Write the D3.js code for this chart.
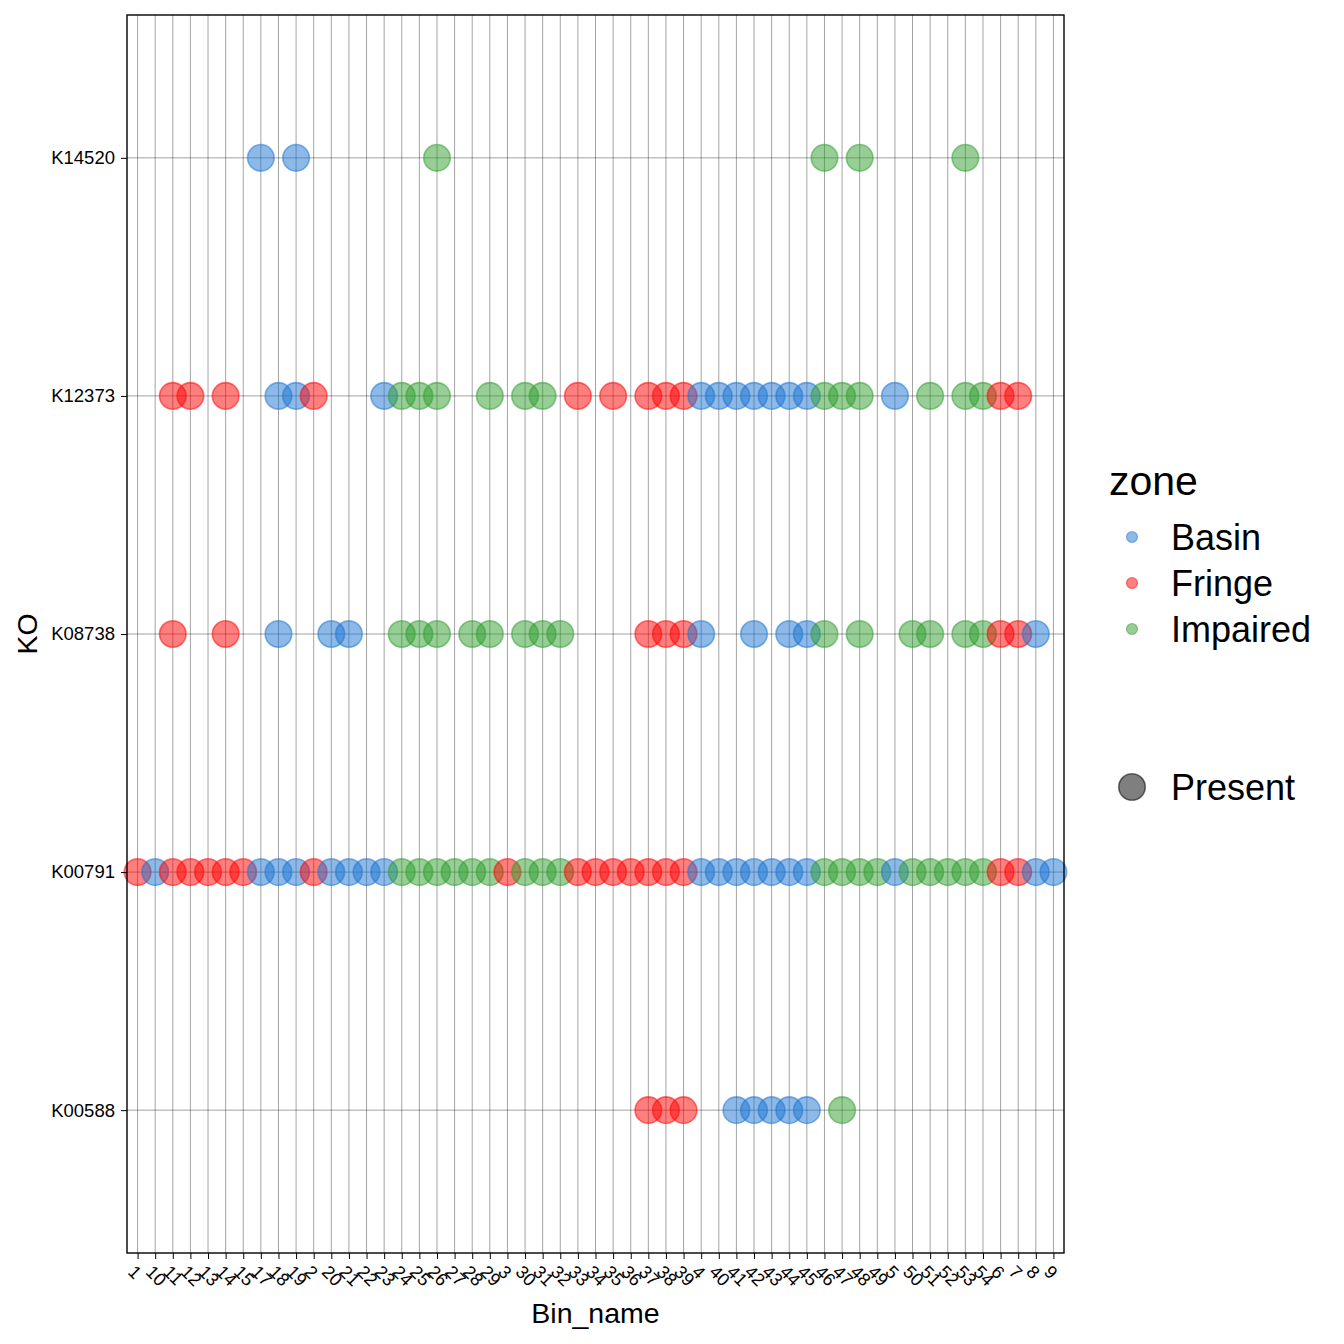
<!DOCTYPE html>
<html><head><meta charset="utf-8">
<script src="https://cdn.jsdelivr.net/npm/d3@7"></script>
<style>body{margin:0;background:#fff}svg{display:block;font-family:"Liberation Sans",Arial,sans-serif}</style>
</head><body>
<svg id="c" width="1344" height="1344"></svg>
<script>
// x categories (Bin_name, alphabetic order as in the chart)
const bins = ["1","10","11","12","13","14","15","17","18","19","2","20","21","22","23","24","25","26","27","28","29","3","30","31","32","33","34","35","36","37","38","39","4","40","41","42","43","44","45","46","47","48","49","5","50","51","52","53","54","6","7","8","9"];
// zone of each bin (same order as bins)
const binZones = ["Fringe","Basin","Fringe","Fringe","Fringe","Fringe","Fringe","Basin","Basin","Basin","Fringe","Basin","Basin","Basin","Basin","Impaired","Impaired","Impaired","Impaired","Impaired","Impaired","Fringe","Impaired","Impaired","Impaired","Fringe","Fringe","Fringe","Fringe","Fringe","Fringe","Fringe","Basin","Basin","Basin","Basin","Basin","Basin","Basin","Impaired","Impaired","Impaired","Impaired","Basin","Impaired","Impaired","Impaired","Impaired","Impaired","Fringe","Fringe","Basin","Basin"];
// y categories (bottom to top)
const kos = ["K00588","K00791","K08738","K12373","K14520"];
// bins where each KO is Present
const presK00588 = ["37","38","39","41","42","43","44","45","47"];
const presK00791 = bins.slice();
const presK08738 = ["11","14","18","20","21","24","25","26","28","29","30","31","32","37","38","39","4","42","44","45","46","48","50","51","53","54","6","7","8"];
const presK12373 = ["11","12","14","18","19","2","23","24","25","26","29","30","31","33","35","37","38","39","4","40","41","42","43","44","45","46","47","48","5","51","53","54","6","7"];
const presK14520 = ["17","19","26","46","48","53"];
const zones = ["Basin","Fringe","Impaired"];
const zoneColors = ["#1a73d1","#ff0000","#2e9e2e"];

const presence = {K00588:presK00588,K00791:presK00791,K08738:presK08738,K12373:presK12373,K14520:presK14520};
const zoneOf = new Map(bins.map((b,i)=>[b,binZones[i]]));
const points = [];
kos.forEach(k => presence[k].forEach(b => points.push({bin:b, ko:k, zone:zoneOf.get(b)})));

const svg = d3.select("#c");
const L=127, R=1064, T=15, B=1253;
const x = d3.scalePoint().domain(bins).range([L,R]).padding(0.6);
const y = d3.scalePoint().domain(kos).range([B,T]).padding(0.6);
const color = d3.scaleOrdinal().domain(zones).range(zoneColors);

// grid
const g = svg.append("g");
g.selectAll("line.vx").data(bins).join("line")
  .attr("x1",d=>x(d)).attr("x2",d=>x(d)).attr("y1",T).attr("y2",B)
  .attr("stroke","#000").attr("stroke-opacity",0.36).attr("stroke-width",1);
g.selectAll("line.hy").data(kos).join("line")
  .attr("y1",d=>y(d)).attr("y2",d=>y(d)).attr("x1",L).attr("x2",R)
  .attr("stroke","#000").attr("stroke-opacity",0.36).attr("stroke-width",1);

// points
svg.append("g").selectAll("circle").data(points).join("circle")
  .attr("cx",d=>x(d.bin)).attr("cy",d=>y(d.ko)).attr("r",13.3)
  .attr("fill",d=>color(d.zone)).attr("fill-opacity",0.5)
  .attr("stroke",d=>color(d.zone)).attr("stroke-opacity",0.5).attr("stroke-width",1.6);

// border
svg.append("rect").attr("x",L).attr("y",T).attr("width",R-L).attr("height",B-T)
  .attr("fill","none").attr("stroke","#000").attr("stroke-width",1.4);

// axes
const ax = svg.append("g").attr("transform",`translate(0,${B})`)
  .call(d3.axisBottom(x).tickSize(6).tickPadding(4));
ax.select(".domain").remove();
ax.selectAll(".tick line").attr("stroke","#000").attr("stroke-width",1);
ax.selectAll(".tick text").attr("font-size",18).attr("fill","#000")
  .attr("text-anchor","start").attr("dy",null).attr("y",0)
  .attr("dominant-baseline","hanging")
  .attr("transform","translate(-2,11) rotate(45)");

const ay = svg.append("g").attr("transform",`translate(${L},0)`)
  .call(d3.axisLeft(y).tickSize(6).tickPadding(6));
ay.select(".domain").remove();
ay.selectAll(".tick line").attr("stroke","#000").attr("stroke-width",1);
ay.selectAll(".tick text").attr("font-size",18.5).attr("fill","#000");

svg.append("text").attr("x",(L+R)/2).attr("y",1323).attr("text-anchor","middle")
  .attr("font-size",28.5).text("Bin_name");
svg.append("text").attr("transform",`translate(37,${(T+B)/2}) rotate(-90)`)
  .attr("text-anchor","middle").attr("font-size",28.5).text("KO");

// legend
const lg = svg.append("g");
lg.append("text").attr("x",1109).attr("y",495).attr("font-size",41).text("zone");
zones.forEach((z,i)=>{
  const cy = 537 + i*46;
  lg.append("circle").attr("cx",1132).attr("cy",cy).attr("r",5.5)
    .attr("fill",color(z)).attr("fill-opacity",0.5)
    .attr("stroke",color(z)).attr("stroke-opacity",0.5).attr("stroke-width",1.2);
  lg.append("text").attr("x",1171).attr("y",cy+13).attr("font-size",36).text(z);
});
lg.append("circle").attr("cx",1132).attr("cy",787).attr("r",13.3)
  .attr("fill","#000").attr("fill-opacity",0.5)
  .attr("stroke","#000").attr("stroke-opacity",0.5).attr("stroke-width",1.6);
lg.append("text").attr("x",1171).attr("y",800).attr("font-size",36).text("Present");
</script>
</body></html>
